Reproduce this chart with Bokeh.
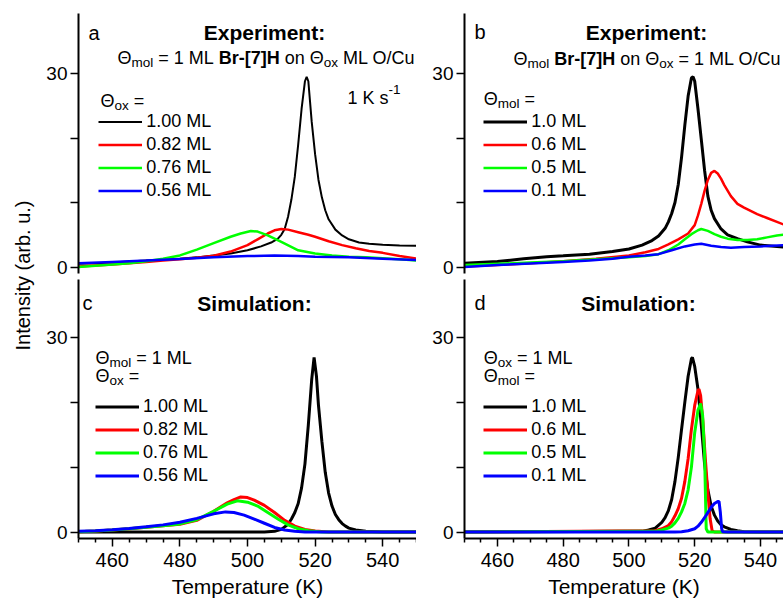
import math
from bokeh.plotting import figure
from bokeh.layouts import row, column
from bokeh.models import Label, FixedTicker, Range1d, Legend, LegendItem
from bokeh.core.properties import value
from bokeh.embed import file_html
from bokeh.resources import INLINE

FONT = "Liberation Sans"
COLORS = ["#000000", "#ff0000", "#00ff00", "#0000ff"]

# ---------------- data ----------------
# (a) experiment, 1 ML Br-[7]H on varying oxygen coverage
a_T_100 = [450, 455, 460, 465, 470, 475, 480, 485, 490, 495, 500, 504, 507, 509, 510, 511, 512, 513, 514, 515,
           516, 517, 517.5, 518, 519, 520, 521, 522, 523, 524, 526, 528, 530, 533, 536, 540, 545, 550]
a_I_100 = [0.5, 0.6, 0.7, 0.85, 1.0, 1.15, 1.3, 1.5, 1.8, 2.1, 2.6, 3.2, 3.8, 4.4, 5.0, 5.9, 7.8, 10.5, 14.0, 19.0,
           24.5, 28.8, 29.5, 28.8, 22.5, 17.5, 13.5, 10.8, 8.8, 7.4, 5.8, 4.9, 4.3, 3.8, 3.6, 3.45, 3.35, 3.3]
a_T_082 = [450, 455, 460, 465, 470, 475, 480, 485, 490, 495, 500, 503, 506, 508, 510, 512, 515, 518, 520, 524,
           528, 532, 536, 540, 545, 550]
a_I_082 = [0.1, 0.25, 0.4, 0.6, 0.8, 1.0, 1.2, 1.45, 1.75, 2.4, 3.4, 4.3, 5.2, 5.7, 5.9, 5.8, 5.4, 5.0, 4.7, 4.0,
           3.4, 2.9, 2.5, 2.2, 1.7, 1.3]
a_T_076 = [450, 455, 460, 465, 470, 475, 480, 485, 490, 495, 498, 501, 503, 506, 510, 515, 520, 525, 530, 535,
           540, 545, 550]
a_I_076 = [0.0, 0.2, 0.4, 0.6, 0.9, 1.3, 1.8, 2.7, 3.7, 4.7, 5.2, 5.6, 5.5, 4.9, 3.9, 2.6, 2.1, 1.8, 1.6, 1.5,
           1.35, 1.2, 1.0]
a_T_056 = [450, 460, 470, 480, 490, 500, 508, 515, 520, 530, 540, 550]
a_I_056 = [0.6, 0.8, 1.0, 1.25, 1.5, 1.7, 1.8, 1.7, 1.6, 1.5, 1.3, 1.1]

# (b) experiment, varying molecular coverage on 1 ML O/Cu
b_T_10 = [450, 460, 468, 475, 480, 488, 495, 500, 504, 507, 509, 511, 512, 513, 514, 515, 516, 517, 518, 519,
          519.5, 520, 521, 522, 523, 524, 525, 526, 528, 530, 533, 536, 540, 547]
b_I_10 = [0.6, 0.85, 1.3, 1.6, 1.75, 2.0, 2.4, 2.8, 3.4, 4.1, 4.8, 6.0, 7.0, 8.3, 10.0, 12.8, 17.0, 22.0, 26.5, 29.3,
          29.5, 28.8, 24.5, 19.8, 15.0, 11.0, 8.8, 7.5, 5.9, 5.0, 4.4, 3.9, 3.4, 3.1]
b_T_06 = [450, 460, 470, 480, 490, 500, 505, 509, 512, 515, 518, 520, 521, 522, 523, 524, 525, 526, 527, 528,
          529, 531, 533, 535, 537, 539, 542, 545, 547]
b_I_06 = [0.1, 0.3, 0.6, 0.9, 1.3, 1.8, 2.3, 2.8, 3.5, 4.3, 5.2, 6.5, 8.0, 9.8, 11.8, 13.5, 14.6, 14.9, 14.5, 13.7,
          12.7, 11.0, 9.8, 9.2, 8.7, 8.2, 7.6, 7.0, 6.6]
b_T_05 = [450, 460, 470, 480, 490, 500, 505, 509, 512, 515, 517, 519, 521, 522, 524, 526, 528, 530, 533, 536,
          539, 542, 545, 547]
b_I_05 = [0.3, 0.5, 0.7, 0.9, 1.2, 1.5, 1.7, 2.0, 2.6, 3.5, 4.3, 5.1, 5.7, 5.9, 5.6, 5.1, 4.7, 4.4, 4.2, 4.2,
          4.3, 4.6, 4.9, 5.0]
b_T_01 = [450, 460, 470, 480, 488, 495, 500, 505, 509, 513, 517, 520, 522, 525, 528, 531, 535, 540, 547]
b_I_01 = [0.0, 0.3, 0.55, 0.8, 1.0, 1.3, 1.6, 1.8, 2.0, 2.6, 3.2, 3.5, 3.6, 3.3, 3.1, 3.0, 3.1, 3.2, 3.4]

# (c) simulation, varying oxygen coverage
c_T_100 = [450, 505, 508, 510, 511, 512, 513, 514, 515, 516, 517, 518, 519, 519.7, 520.4, 521, 522, 523, 524, 525,
           526, 527, 528, 529, 530, 532, 535, 540, 550]
c_I_100 = [0.0, 0.0, 0.1, 0.4, 0.8, 1.2, 2.0, 3.0, 4.4, 6.8, 10.5, 16.5, 23.5, 26.9, 24.0, 19.5, 14.0, 9.2, 6.0, 4.0,
           2.7, 1.9, 1.3, 0.9, 0.6, 0.3, 0.1, 0.0, 0.0]
c_T_082 = [450, 455, 460, 465, 470, 475, 480, 485, 490, 494, 496, 498, 500, 502, 505, 508, 511, 514, 517, 520,
           524, 550]
c_I_082 = [0.05, 0.15, 0.3, 0.5, 0.75, 0.95, 1.2, 1.8, 3.2, 4.5, 5.0, 5.4, 5.3, 4.9, 4.1, 3.0, 1.8, 0.9, 0.4, 0.15,
           0.0, 0.0]
c_T_076 = [450, 455, 460, 465, 470, 475, 480, 485, 490, 494, 497, 500, 503, 506, 509, 512, 515, 518, 522, 550]
c_I_076 = [0.05, 0.15, 0.3, 0.5, 0.75, 0.95, 1.25, 1.9, 3.2, 4.3, 4.8, 4.6, 4.0, 3.0, 2.0, 1.1, 0.5, 0.2, 0.0, 0.0]
c_T_056 = [450, 455, 460, 465, 470, 475, 480, 485, 490, 493.5, 496, 499, 502, 505, 508, 511, 514, 517, 550]
c_I_056 = [0.1, 0.2, 0.35, 0.55, 0.8, 1.1, 1.5, 2.1, 2.8, 3.1, 3.0, 2.6, 2.0, 1.35, 0.7, 0.3, 0.1, 0.0, 0.0]

# (d) simulation, varying molecular coverage
d_T_10 = [450, 504, 506, 508, 510, 511, 512, 513, 514, 515, 516, 517, 518, 519, 519.3, 520, 521, 522, 523, 524,
          525, 526, 527, 528, 529, 531, 533, 535, 540, 547]
d_I_10 = [0.0, 0.1, 0.3, 0.6, 1.5, 2.2, 3.3, 5.0, 7.8, 11.5, 15.8, 20.0, 24.0, 26.7, 26.9, 25.5, 22.0, 16.5, 10.5, 6.5,
          4.0, 2.6, 1.7, 1.1, 0.8, 0.4, 0.2, 0.05, 0.0, 0.0]
d_T_06 = [450, 508, 510, 512, 513, 514, 515, 516, 517, 518, 519, 520, 521, 521.3, 521.8, 522.5, 523.2, 524, 524.7,
          525.3, 526, 547]
d_I_06 = [0.0, 0.2, 0.5, 1.0, 1.6, 2.5, 3.6, 5.2, 7.8, 11.3, 15.8, 19.5, 21.8, 22.0, 21.0, 17.0, 11.5, 6.0, 2.0,
          0.2, 0.0, 0.0]
d_T_05 = [450, 508, 510, 512, 513, 514, 515, 516, 517, 518, 519, 520, 521, 521.8, 522.4, 523.0, 523.3, 523.5, 524, 547]
d_I_05 = [0.0, 0.1, 0.3, 0.6, 0.9, 1.4, 2.1, 3.1, 4.4, 6.5, 10.0, 15.3, 18.8, 19.8, 18.0, 12.0, 5.0, 0.5, 0.0, 0.0]
d_T_01 = [450, 514, 516, 518, 520, 521, 522, 523, 524, 525, 526, 527, 527.4, 527.8, 528.2, 528.5, 530, 547]
d_I_01 = [0.0, 0.0, 0.05, 0.2, 0.5, 0.9, 1.5, 2.2, 3.0, 3.8, 4.4, 4.7, 4.7, 3.0, 0.5, 0.05, 0.0, 0.0]

ox_labels = ["1.00 ML", "0.82 ML", "0.76 ML", "0.56 ML"]
mol_labels = ["1.0 ML", "0.6 ML", "0.5 ML", "0.1 ML"]
x_major = [460, 480, 500, 520, 540]
x_minor = [450, 455, 465, 470, 475, 485, 490, 495, 505, 510, 515, 525, 530, 535, 545, 550]
y_major = [0, 30]
y_minor = [10, 20]

# ---------------- geometry of the four frames (page pixels) ----------------
G = {
    "a": dict(left=78, top=13, w=338, h=260, x=(450, 550), y=(-1.0, 39.3), bl=38, W=376, H=279, bt=13, bb=6),
    "b": dict(left=464, top=13, w=319, h=260, x=(450, 547), y=(-1.0, 39.3), bl=48, W=367, H=279, bt=13, bb=6),
    "c": dict(left=78, top=279, w=338, h=259, x=(450, 550), y=(-1.0, 38.9), bl=38, W=376, H=321, bt=0, bb=62),
    "d": dict(left=464, top=279, w=319, h=259, x=(450, 547), y=(-1.0, 38.9), bl=48, W=367, H=321, bt=0, bb=62),
}

# Arial / Liberation Sans advance widths (1/1000 em)
W_REG = {' ': 278, '=': 584, '.': 278, '-': 333, '/': 278, 'M': 833, 'L': 556, 'K': 667, 'O': 778, 'C': 722,
         'Θ': 778, 's': 500, 'u': 556, 'o': 556, 'n': 556, 'm': 833, 'l': 222, 'x': 500}
W_BOLD = {' ': 278, 'B': 722, 'r': 389, '-': 333, '[': 333, ']': 333, 'H': 722}


def text_width(txt, bold, size):
    table = W_BOLD if bold else W_REG
    return sum(556 if ch.isdigit() else table.get(ch, 556) for ch in txt) * size / 1000.0


def to_data(g, px, py):
    x0, x1 = g["x"]
    y0, y1 = g["y"]
    return (x0 + (px - g["left"]) / g["w"] * (x1 - x0),
            y1 - (py - g["top"]) / g["h"] * (y1 - y0))


def label(p, g, px, py, text, size, bold=False, align="left"):
    x, y = to_data(g, px, py)
    p.add_layout(Label(x=x, y=y, text=text, text_font=FONT, text_font_size=f"{size:.1f}px",
                       text_font_style="bold" if bold else "normal", text_color="black",
                       text_align=align, text_baseline="alphabetic"))


def rich(p, g, px, py, parts, size=18):
    """Run of text pieces: 'n' normal, 'b' bold, 'sub' subscript, 'sup' superscript.
    Leading/trailing blanks become horizontal advance, since SVG collapses them."""
    x = px
    for txt, kind in parts:
        bold = kind == "b"
        fs = size * 0.75 if kind in ("sub", "sup") else size
        dy = {"sub": 0.28 * size, "sup": -0.43 * size}.get(kind, 0.0)
        core = txt.strip(" ")
        if not core:
            x += text_width(txt, bold, fs)
            continue
        lead = len(txt) - len(txt.lstrip(" "))
        trail = len(txt) - len(txt.rstrip(" "))
        x += text_width(" " * lead, bold, fs)
        label(p, g, x, py + dy, core, fs, bold=bold)
        x += text_width(core, bold, fs) + text_width(" " * trail, bold, fs)


def make_panel(g, x_axis):
    p = figure(width=g["W"], height=g["H"], x_range=Range1d(*g["x"]), y_range=Range1d(*g["y"]),
               min_border_left=g["bl"], min_border_right=0, min_border_top=g["bt"], min_border_bottom=g["bb"],
               toolbar_location=None, output_backend="svg",
               x_axis_location="below" if x_axis else None)
    p.outline_line_color = None
    p.xgrid.visible = False
    p.ygrid.visible = False
    p.background_fill_color = "white"
    p.border_fill_color = "white"
    ya = p.yaxis[0]
    ya.ticker = FixedTicker(ticks=y_major, minor_ticks=y_minor)
    ya.axis_line_width = 2
    ya.axis_line_color = "black"
    ya.major_tick_line_width = 1.5
    ya.minor_tick_line_width = 1.5
    ya.major_tick_in = 0
    ya.major_tick_out = 8
    ya.minor_tick_in = 0
    ya.minor_tick_out = 8
    ya.major_label_standoff = 3
    ya.major_label_text_font = FONT
    ya.major_label_text_font_size = "19px"
    ya.major_label_text_color = "black"
    if x_axis:
        xa = p.xaxis[0]
        xa.ticker = FixedTicker(ticks=x_major, minor_ticks=x_minor)
        xa.axis_line_width = 2
        xa.axis_line_color = "black"
        xa.major_tick_line_width = 1.5
        xa.minor_tick_line_width = 1.5
        xa.major_tick_in = 0
        xa.major_tick_out = 8
        xa.minor_tick_in = 0
        xa.minor_tick_out = 4
        xa.major_label_standoff = 6
        xa.major_label_text_font = FONT
        xa.major_label_text_font_size = "20px"
        xa.major_label_text_color = "black"
        xa.axis_label = "Temperature (K)"
        xa.axis_label_text_font = FONT
        xa.axis_label_text_font_size = "21px"
        xa.axis_label_text_font_style = "normal"
        xa.axis_label_text_color = "black"
        xa.axis_label_standoff = 5
    return p


def draw(p, series, widths):
    rs = []
    for (T, I), color, lw in zip(series, COLORS, widths):
        rs.append(p.line(T, I, line_color=color, line_width=lw))
    return rs


def add_legend(p, g, renderers, labels, px_left, py_first):
    h, s = 21, 2
    bottom = py_first - h / 2 + 4 * h + 3 * s
    leg = Legend(items=[LegendItem(label=value(t), renderers=[r]) for t, r in zip(labels, renderers)],
                 location=(px_left - g["left"], g["top"] + g["h"] - bottom), orientation="vertical",
                 padding=0, margin=0, spacing=s, glyph_width=44, glyph_height=h, label_height=h,
                 label_standoff=4, label_text_font=FONT, label_text_font_size="18px",
                 label_text_color="black", border_line_color=None, background_fill_alpha=0)
    p.add_layout(leg)


# ---------------- panel a ----------------
ga = G["a"]
pa = make_panel(ga, False)
ra = draw(pa, [(a_T_100, a_I_100), (a_T_082, a_I_082), (a_T_076, a_I_076), (a_T_056, a_I_056)],
          [2.0, 2.5, 2.5, 2.5])
label(pa, ga, 88, 32, "a", 20)
label(pa, ga, 264, 32, "Experiment:", 21, bold=True, align="center")
rich(pa, ga, 117, 57, [("Θ", "n"), ("mol", "sub"), (" = 1 ML ", "n"), ("Br-[7]H", "b"), (" on Θ", "n"),
                       ("ox", "sub"), (" ML O/Cu", "n")])
rich(pa, ga, 347, 97, [("1 K s", "n"), ("-1", "sup")])
rich(pa, ga, 100, 100, [("Θ", "n"), ("ox", "sub"), (" =", "n")])
add_legend(pa, ga, ra, ox_labels, 98.3, 121.7)

# ---------------- panel b ----------------
gb = G["b"]
pb = make_panel(gb, False)
rb = draw(pb, [(b_T_10, b_I_10), (b_T_06, b_I_06), (b_T_05, b_I_05), (b_T_01, b_I_01)],
          [3.0, 2.5, 2.5, 2.5])
label(pb, gb, 474, 31, "b", 20)
label(pb, gb, 646, 32, "Experiment:", 21, bold=True, align="center")
rich(pb, gb, 513, 58, [("Θ", "n"), ("mol", "sub"), (" ", "n"), ("Br-[7]H", "b"), (" on Θ", "n"),
                       ("ox", "sub"), (" = 1 ML O/Cu", "n")])
rich(pb, gb, 483.3, 98.3, [("Θ", "n"), ("mol", "sub"), (" =", "n")])
add_legend(pb, gb, rb, mol_labels, 483.3, 121.7)

# ---------------- panel c ----------------
gc = G["c"]
pc = make_panel(gc, True)
rc = draw(pc, [(c_T_100, c_I_100), (c_T_082, c_I_082), (c_T_076, c_I_076), (c_T_056, c_I_056)],
          [3.0, 3.0, 3.0, 3.0])
label(pc, gc, 82, 302, "c", 20)
label(pc, gc, 254, 303, "Simulation:", 21, bold=True, align="center")
rich(pc, gc, 95, 357, [("Θ", "n"), ("mol", "sub"), (" = 1 ML", "n")])
rich(pc, gc, 95, 375, [("Θ", "n"), ("ox", "sub"), (" =", "n")])
add_legend(pc, gc, rc, ox_labels, 95, 406)

# ---------------- panel d ----------------
gd = G["d"]
pd_ = make_panel(gd, True)
rd = draw(pd_, [(d_T_10, d_I_10), (d_T_06, d_I_06), (d_T_05, d_I_05), (d_T_01, d_I_01)],
          [3.0, 3.0, 3.0, 3.0])
label(pd_, gd, 474, 302, "d", 20)
label(pd_, gd, 638, 303, "Simulation:", 21, bold=True, align="center")
rich(pd_, gd, 483.3, 357, [("Θ", "n"), ("ox", "sub"), (" = 1 ML", "n")])
rich(pd_, gd, 483.3, 375, [("Θ", "n"), ("mol", "sub"), (" =", "n")])
add_legend(pd_, gd, rd, mol_labels, 483.3, 406.7)

# ---------------- shared y-axis title ----------------
py = figure(width=40, height=600, x_range=Range1d(0, 40), y_range=Range1d(0, 600),
            x_axis_location=None, y_axis_location=None, min_border=0,
            toolbar_location=None, output_backend="svg")
py.outline_line_color = None
py.xgrid.visible = False
py.ygrid.visible = False
py.add_layout(Label(x=22, y=325, text="Intensity (arb. u.)", angle=math.pi / 2, text_font=FONT,
                    text_font_size="20px", text_color="black", text_align="center", text_baseline="middle"))

layout = row(py, column(pa, pc), column(pb, pd_))
open("out.html", "w").write(file_html(layout, INLINE))
